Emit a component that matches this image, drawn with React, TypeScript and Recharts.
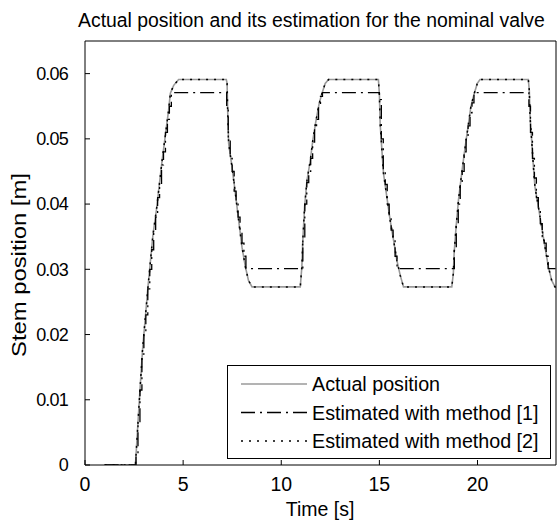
import React from 'react';
import { LineChart, Line, XAxis, YAxis } from 'recharts';

// time base shared by the actual position and the method [2] estimate
const time = [
  1, 2.57, 2.75, 2.93, 3.2, 3.46, 3.64, 3.93, 4.26, 4.35, 4.52, 4.77,
  7.2, 7.24, 7.27, 7.32, 7.49, 7.66, 7.83, 8.0, 8.17, 8.33, 8.51,
  10.97, 11.05, 11.1, 11.19, 11.31, 11.48, 11.61, 11.77, 11.93, 12.07, 12.24, 12.41,
  14.95, 15.0, 15.04, 15.13, 15.21, 15.38, 15.55, 15.72, 15.89, 16.06, 16.23,
  18.69, 18.77, 18.81, 18.91, 19.03, 19.15, 19.28, 19.42, 19.54, 19.66, 19.83, 19.99, 20.13,
  22.59, 22.64, 22.68, 22.76, 22.85, 22.93, 23.1, 23.27, 23.44, 23.61, 23.78, 23.95, 24,
];

const actualPos = [
  0, 0, 0.009, 0.0176, 0.027, 0.0352, 0.0391, 0.0467, 0.0544, 0.057, 0.0582, 0.0591,
  0.0591, 0.0585, 0.0544, 0.0493, 0.0457, 0.0417, 0.0375, 0.0334, 0.0304, 0.0283, 0.0273,
  0.0273, 0.0304, 0.0345, 0.0396, 0.0436, 0.0467, 0.0498, 0.0528, 0.0554, 0.0569, 0.0585, 0.0591,
  0.0591, 0.0569, 0.0523, 0.0482, 0.0447, 0.0411, 0.0375, 0.0345, 0.0314, 0.0291, 0.0273,
  0.0273, 0.0294, 0.0325, 0.0365, 0.0406, 0.0436, 0.0467, 0.0498, 0.0523, 0.0549, 0.0569, 0.0585, 0.0591,
  0.0591, 0.0574, 0.0533, 0.0498, 0.0457, 0.0426, 0.0396, 0.0365, 0.0334, 0.0304, 0.0283, 0.0273, 0.0272,
];

const method2Pos = [
  0, 0, 0.009, 0.0176, 0.027, 0.0352, 0.0391, 0.0467, 0.0544, 0.057, 0.0582, 0.0591,
  0.0591, 0.0585, 0.0544, 0.0493, 0.0457, 0.0417, 0.0375, 0.0334, 0.0304, 0.0283, 0.0273,
  0.0273, 0.0304, 0.0345, 0.0396, 0.0436, 0.0467, 0.0498, 0.0528, 0.0554, 0.0569, 0.0585, 0.0591,
  0.0591, 0.0569, 0.0523, 0.0482, 0.0447, 0.0411, 0.0375, 0.0345, 0.0314, 0.0291, 0.0273,
  0.0273, 0.0294, 0.0325, 0.0365, 0.0406, 0.0436, 0.0467, 0.0498, 0.0523, 0.0549, 0.0569, 0.0585, 0.0591,
  0.0591, 0.0574, 0.0533, 0.0498, 0.0457, 0.0426, 0.0396, 0.0365, 0.0334, 0.0304, 0.0283, 0.0273, 0.0272,
];

// method [1] is a held (staircase) estimate
const method1Time = [
  1, 2.6, 2.7, 2.8, 2.9, 3.0, 3.1, 3.2, 3.3, 3.4, 3.5, 3.6, 3.7, 3.8, 3.9, 4.0, 4.1, 4.2, 4.3, 4.4,
  7.22, 7.3, 7.4, 7.5, 7.6, 7.7, 7.8, 7.9, 8.0, 8.1, 8.2,
  11.1, 11.2, 11.3, 11.4, 11.5, 11.6, 11.7, 11.8, 11.9, 12.0, 12.1,
  15.0, 15.1, 15.2, 15.3, 15.4, 15.5, 15.6, 15.7, 15.8, 15.9,
  18.82, 18.92, 19.02, 19.12, 19.22, 19.32, 19.42, 19.52, 19.62, 19.72, 19.82,
  22.62, 22.7, 22.8, 22.9, 23.0, 23.1, 23.2, 23.3, 23.4, 23.5, 23.6, 24,
];

const method1Pos = [
  0, 0.0015, 0.0065, 0.0115, 0.017, 0.02, 0.023, 0.027, 0.03, 0.033, 0.036, 0.038, 0.041, 0.043, 0.046, 0.048, 0.051, 0.053, 0.055, 0.0571,
  0.055, 0.05, 0.047, 0.045, 0.042, 0.04, 0.038, 0.036, 0.034, 0.032, 0.0301,
  0.0345, 0.04, 0.0433, 0.045, 0.047, 0.0495, 0.0515, 0.053, 0.055, 0.0565, 0.0571,
  0.056, 0.05, 0.045, 0.043, 0.04, 0.038, 0.036, 0.035, 0.032, 0.0301,
  0.033, 0.037, 0.04, 0.043, 0.045, 0.048, 0.05, 0.052, 0.054, 0.0555, 0.0571,
  0.055, 0.051, 0.047, 0.044, 0.041, 0.039, 0.037, 0.035, 0.034, 0.032, 0.0301, 0.0301,
];

const xTicks = [0, 5, 10, 15, 20];
const yTicks = [0, 0.01, 0.02, 0.03, 0.04, 0.05, 0.06];

const actualData = time.map((t, i) => ({ t, v: actualPos[i] }));
const method2Data = time.map((t, i) => ({ t, v: method2Pos[i] }));
const method1Data = method1Time.map((t, i) => ({ t, v: method1Pos[i] }));

const FONT = '"Liberation Sans", Arial, sans-serif';
const xTickStyle = { fill: '#000', fontSize: 19.5, fontFamily: FONT };
const yTickStyle = { fill: '#000', fontSize: 18, fontFamily: FONT, letterSpacing: -0.8 };

const legendItems = [
  { label: 'Actual position', stroke: '#9a9a9a', dash: undefined, width: 1.6 },
  { label: 'Estimated with method [1]', stroke: '#000', dash: '14 5 2 5', width: 1.3 },
  { label: 'Estimated with method [2]', stroke: '#000', dash: '2 6', width: 1.5 },
];

export default function App() {
  return (
    <div style={{ position: 'absolute', left: 0, top: 0, width: 557, height: 520, background: '#fff', fontFamily: FONT, overflow: 'hidden' }}>
      <LineChart width={557} height={520} margin={{ top: 0, right: 0, bottom: 0, left: 0 }}>
        <XAxis
          dataKey="t"
          type="number"
          domain={[0, 24]}
          ticks={xTicks}
          height={55}
          tickSize={-5}
          tickMargin={17}
          tick={xTickStyle}
          axisLine={{ stroke: '#000' }}
          tickLine={{ stroke: '#000' }}
          allowDataOverflow
        />
        <XAxis
          xAxisId="top"
          orientation="top"
          type="number"
          domain={[0, 24]}
          ticks={xTicks}
          height={41}
          tickSize={-5}
          tick={false}
          axisLine={{ stroke: '#000' }}
          tickLine={{ stroke: '#000' }}
        />
        <YAxis
          type="number"
          domain={[0, 0.065]}
          ticks={yTicks}
          width={85}
          tickSize={-5}
          tickMargin={22}
          tick={yTickStyle}
          tickFormatter={(v: number) => (v === 0 ? '0' : v.toFixed(2))}
          axisLine={{ stroke: '#000' }}
          tickLine={{ stroke: '#000' }}
          allowDataOverflow
        />
        <YAxis
          yAxisId="right"
          orientation="right"
          type="number"
          domain={[0, 0.065]}
          ticks={yTicks}
          width={1}
          tickSize={-5}
          tick={false}
          axisLine={{ stroke: '#000' }}
          tickLine={{ stroke: '#000' }}
        />
        <Line
          data={actualData}
          dataKey="v"
          type="linear"
          stroke="#9a9a9a"
          strokeWidth={1.6}
          dot={false}
          isAnimationActive={false}
        />
        <Line
          data={method1Data}
          dataKey="v"
          type="stepAfter"
          stroke="#000"
          strokeWidth={1.3}
          strokeDasharray="14 5 2 5"
          dot={false}
          isAnimationActive={false}
        />
        <Line
          data={method2Data}
          dataKey="v"
          type="linear"
          stroke="#000"
          strokeWidth={1.5}
          strokeDasharray="2 6"
          dot={false}
          isAnimationActive={false}
        />
      </LineChart>

      <div style={{ position: 'absolute', left: 78, top: 8, whiteSpace: 'nowrap', fontSize: 19.4, lineHeight: '24px', color: '#000' }}>
        Actual position and its estimation for the nominal valve
      </div>
      <div style={{ position: 'absolute', left: 320, top: 497, transform: 'translateX(-50%)', whiteSpace: 'nowrap', fontSize: 19.5, lineHeight: '24px', color: '#000' }}>
        Time [s]
      </div>
      <div style={{ position: 'absolute', left: 18.5, top: 265, transform: 'translate(-50%, -50%) rotate(-90deg) scaleX(1.19)', whiteSpace: 'nowrap', fontSize: 20, lineHeight: '24px', color: '#000' }}>
        Stem position [m]
      </div>

      <div style={{ position: 'absolute', left: 227, top: 365, width: 322, height: 92, border: '1px solid #000', background: '#fff' }}>
        <svg width={322} height={92} style={{ position: 'absolute', left: 0, top: 0 }}>
          {legendItems.map((it, i) => (
            <g key={it.label}>
              <line x1={13} x2={79} y1={18 + i * 28.5} y2={18 + i * 28.5} stroke={it.stroke} strokeWidth={it.width} strokeDasharray={it.dash} />
              <text x={84} y={18 + i * 28.5} dominantBaseline="central" fontSize={19.7} fontFamily={FONT} fill="#000">
                {it.label}
              </text>
            </g>
          ))}
        </svg>
      </div>
    </div>
  );
}
